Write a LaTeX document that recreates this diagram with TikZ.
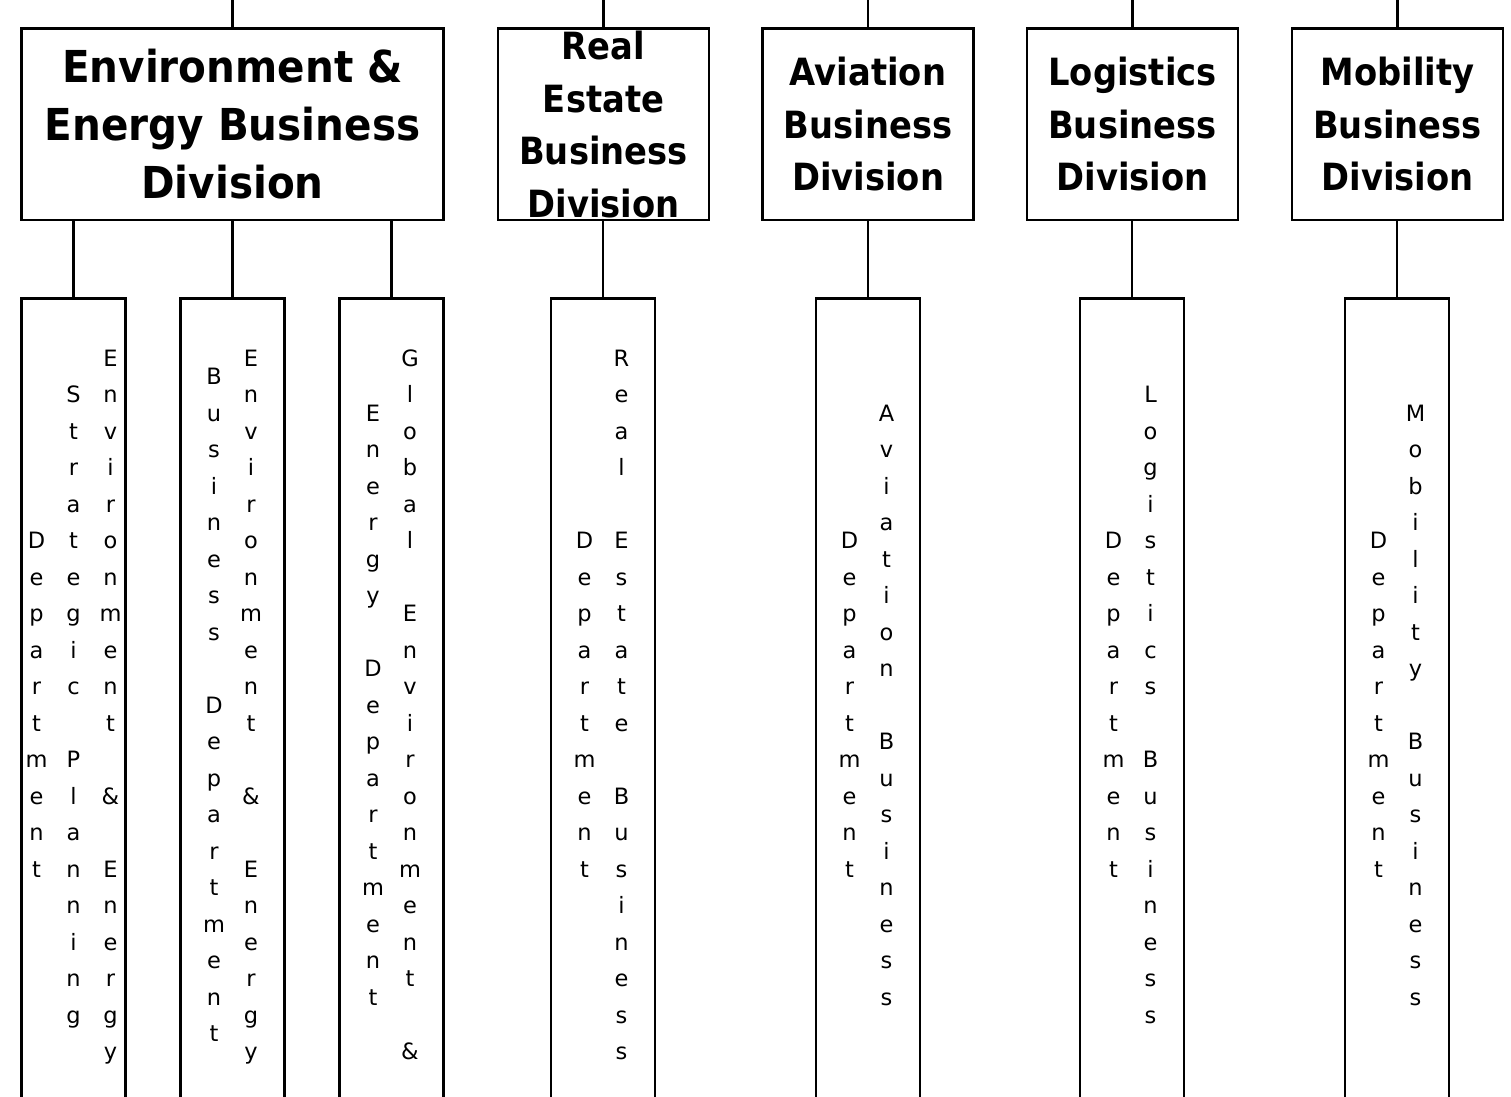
\documentclass[tikz,border=0pt]{standalone}
\usepackage{fontspec}
\setmainfont{DejaVu Sans}
\newfontfamily\titlefontbig[FakeStretch=0.92]{DejaVu Sans}
\newfontfamily\titlefontsmall[FakeStretch=0.9]{DejaVu Sans}
\newcommand{\vtext}[4]{%
  \foreach \ch [count=\k from 0] in {#4} {
    \node[vchar] (#1-\k) at (#2, {713+36.5*(\k-(#3-1)/2)}) {\ch};
  }%
}
\begin{document}
\begin{tikzpicture}[x=1pt,y=-1pt,
  box/.style={draw,line width=2.8pt,inner sep=0pt,fill=white},
  divbox/.style={box,minimum width=211pt,minimum height=191.5pt},
  deptbox/.style={box,minimum width=104pt,minimum height=811pt},
  link/.style={line width=2.8pt},
  bigtitle/.style={anchor=base,inner sep=0pt,font=\titlefontbig\bfseries\fontsize{44}{52}\selectfont},
  smalltitle/.style={anchor=base,inner sep=0pt,font=\titlefontsmall\bfseries\fontsize{37.5}{45}\selectfont},
  vchar/.style={anchor=base,inner sep=0pt,font=\fontsize{22.5}{26}\selectfont}]
\useasboundingbox (0,0) rectangle (1511,1096);
\clip (0,0) rectangle (1511,1096);

% division boxes
\node[divbox,minimum width=422pt] (div1) at (232.5,124.25) {};
\node[divbox] (div2) at (603.5,124.25) {};
\node[divbox] (div3) at (868,124.25) {};
\node[divbox] (div4) at (1132.5,124.25) {};
\node[divbox] (div5) at (1397.5,124.25) {};

% division titles
\node[bigtitle] (t1a) at (232.5,82.5) {Environment \&};
\node[bigtitle] (t1b) at (232.5,140.5) {Energy Business};
\node[bigtitle] (t1c) at (232.5,198.5) {Division};

\node[smalltitle] (t2a) at (603.5,59.5) {Real};
\node[smalltitle] (t2b) at (603.5,112) {Estate};
\node[smalltitle] (t2c) at (603.5,164.5) {Business};
\node[smalltitle] (t2d) at (603.5,217) {Division};

\node[smalltitle] (t3a) at (868,85.5) {Aviation};
\node[smalltitle] (t3b) at (868,138) {Business};
\node[smalltitle] (t3c) at (868,190.5) {Division};

\node[smalltitle] (t4a) at (1132.5,85.5) {Logistics};
\node[smalltitle] (t4b) at (1132.5,138) {Business};
\node[smalltitle] (t4c) at (1132.5,190.5) {Division};

\node[smalltitle] (t5a) at (1397.5,85.5) {Mobility};
\node[smalltitle] (t5b) at (1397.5,138) {Business};
\node[smalltitle] (t5c) at (1397.5,190.5) {Division};

% department boxes
\node[deptbox] (dep1) at (73.5,704) {};
\node[deptbox] (dep2) at (232.5,704) {};
\node[deptbox] (dep3) at (391.5,704) {};
\node[deptbox] (dep4) at (603,704) {};
\node[deptbox] (dep5) at (868,704) {};
\node[deptbox] (dep6) at (1132,704) {};
\node[deptbox] (dep7) at (1397,704) {};

% top stubs
\coordinate (top1) at (232.5,0);
\coordinate (top2) at (603.5,0);
\coordinate (top3) at (868,0);
\coordinate (top4) at (1132.5,0);
\coordinate (top5) at (1397.5,0);
\draw[link] (top1) -- (div1.north);
\draw[link] (top2) -- (div2.north);
\draw[link] (top3) -- (div3.north);
\draw[link] (top4) -- (div4.north);
\draw[link] (top5) -- (div5.north);

% connectors division -> department
\draw[link] (div1.south -| dep1.north) -- (dep1.north);
\draw[link] (div1.south -| dep2.north) -- (dep2.north);
\draw[link] (div1.south -| dep3.north) -- (dep3.north);
\draw[link] (div2.south -| dep4.north) -- (dep4.north);
\draw[link] (div3.south -| dep5.north) -- (dep5.north);
\draw[link] (div4.south -| dep6.north) -- (dep6.north);
\draw[link] (div5.south -| dep7.north) -- (dep7.north);

% vertical texts
\vtext{c1a}{110.5}{20}{E,n,v,i,r,o,n,m,e,n,t,{},\&,{},E,n,e,r,g,y}
\vtext{c1b}{73.5}{18}{S,t,r,a,t,e,g,i,c,{},P,l,a,n,n,i,n,g}
\vtext{c1c}{36.5}{10}{D,e,p,a,r,t,m,e,n,t}

\vtext{c2a}{251}{20}{E,n,v,i,r,o,n,m,e,n,t,{},\&,{},E,n,e,r,g,y}
\vtext{c2b}{214}{19}{B,u,s,i,n,e,s,s,{},D,e,p,a,r,t,m,e,n,t}

\vtext{c3a}{410}{20}{G,l,o,b,a,l,{},E,n,v,i,r,o,n,m,e,n,t,{},\&}
\vtext{c3b}{373}{17}{E,n,e,r,g,y,{},D,e,p,a,r,t,m,e,n,t}

\vtext{c4a}{621.5}{20}{R,e,a,l,{},E,s,t,a,t,e,{},B,u,s,i,n,e,s,s}
\vtext{c4b}{584.5}{10}{D,e,p,a,r,t,m,e,n,t}

\vtext{c5a}{886.5}{17}{A,v,i,a,t,i,o,n,{},B,u,s,i,n,e,s,s}
\vtext{c5b}{849.5}{10}{D,e,p,a,r,t,m,e,n,t}

\vtext{c6a}{1150.5}{18}{L,o,g,i,s,t,i,c,s,{},B,u,s,i,n,e,s,s}
\vtext{c6b}{1113.5}{10}{D,e,p,a,r,t,m,e,n,t}

\vtext{c7a}{1415.5}{17}{M,o,b,i,l,i,t,y,{},B,u,s,i,n,e,s,s}
\vtext{c7b}{1378.5}{10}{D,e,p,a,r,t,m,e,n,t}
\end{tikzpicture}
\end{document}
